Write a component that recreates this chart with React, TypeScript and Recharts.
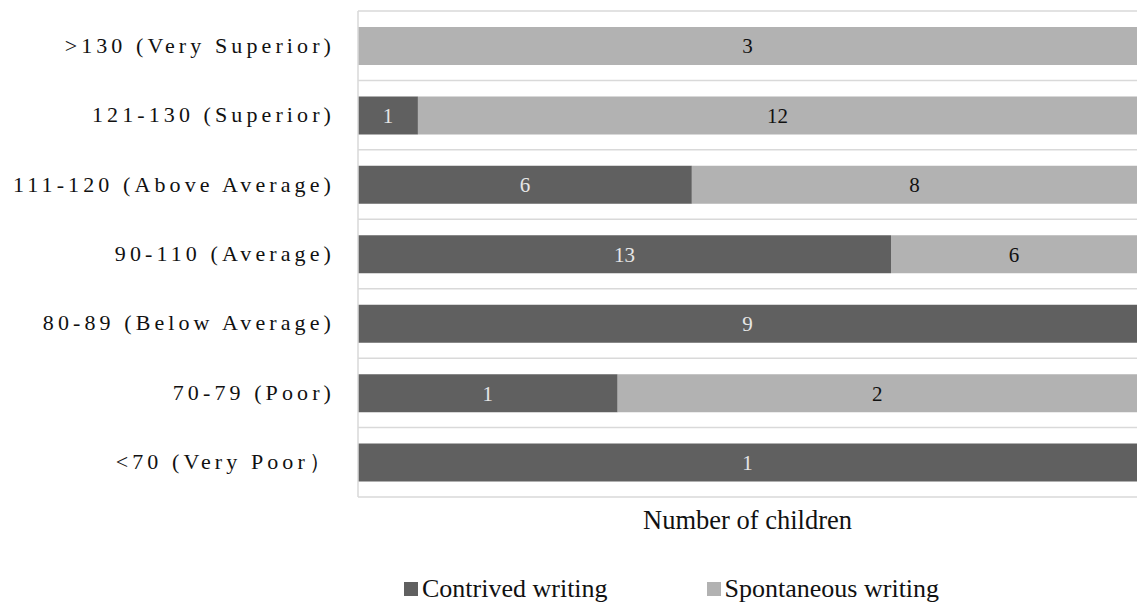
import { BarChart, Bar, XAxis, YAxis, CartesianGrid, Legend, LabelList } from 'recharts';

const categories = [
  '>130 (Very Superior)',
  '121-130 (Superior)',
  '111-120 (Above Average)',
  '90-110 (Average)',
  '80-89 (Below Average)',
  '70-79 (Poor)',
  '<70  (Very Poor）',
];
const contrived = [0, 1, 6, 13, 9, 1, 1];
const spontaneous = [3, 12, 8, 6, 0, 2, 0];

const DARK = '#606060';
const LIGHT = '#b2b2b2';
const SERIF = 'Liberation Serif, Times New Roman, serif';

const data = categories.map((name, i) => ({
  name,
  contrived: contrived[i],
  spontaneous: spontaneous[i],
}));

const hideZero = (v: any) => (v === 0 ? '' : v);

function CategoryTick({ x, y, payload }: any) {
  return (
    <text
      x={x - 15}
      y={y}
      dy={7}
      textAnchor="end"
      style={{ fontFamily: SERIF, fontSize: 22, letterSpacing: 4.1 }}
      fill="#111"
    >
      {payload.value}
    </text>
  );
}

function LegendContent() {
  const items = [
    { label: 'Contrived writing', color: DARK },
    { label: 'Spontaneous writing', color: LIGHT },
  ];
  return (
    <div
      style={{
        display: 'flex',
        height: 30,
        alignItems: 'center',
        paddingLeft: 404,
        fontFamily: SERIF,
        fontSize: 26,
        color: '#111',
      }}
    >
      {items.map((it) => (
        <div key={it.label} style={{ display: 'flex', alignItems: 'center', marginRight: 99 }}>
          <span style={{ width: 14, height: 14, background: it.color, marginRight: 4 }} />
          <span>{it.label}</span>
        </div>
      ))}
    </div>
  );
}

// grid lines sit on the category boundaries, not the band centres
const boundaryLines = ({ offset }: any) => {
  const step = offset.height / categories.length;
  return Array.from({ length: categories.length + 1 }, (_, i) => offset.top + i * step);
};

export default function App() {
  return (
    <div style={{ position: 'absolute', left: 0, top: 0, background: '#fff', fontFamily: SERIF }}>
      <BarChart
        width={1137}
        height={608}
        data={data}
        layout="vertical"
        stackOffset="expand"
        barSize={38}
        margin={{ top: 11, right: 0, bottom: 4, left: 0 }}
      >
        <CartesianGrid
          vertical={false}
          stroke="#d9d9d9"
          strokeWidth={1.5}
          horizontalCoordinatesGenerator={boundaryLines}
        />
        <XAxis
          type="number"
          domain={[0, 1]}
          tick={false}
          tickLine={false}
          axisLine={false}
          height={77}
          label={{
            value: 'Number of children',
            position: 'insideTop',
            offset: 13,
            style: { fontFamily: SERIF, fontSize: 26.5 },
            fill: '#111',
          }}
        />
        <YAxis
          type="category"
          dataKey="name"
          width={358}
          tickLine={false}
          axisLine={{ stroke: '#d9d9d9', strokeWidth: 1.5 }}
          tick={<CategoryTick />}
        />
        <Legend verticalAlign="bottom" align="left" content={<LegendContent />} />
        <Bar dataKey="contrived" stackId="a" fill={DARK} isAnimationActive={false}>
          <LabelList
            dataKey="contrived"
            position="center"
            formatter={hideZero}
            fill="#e6e6e6"
            style={{ fontFamily: SERIF, fontSize: 21 }}
          />
        </Bar>
        <Bar dataKey="spontaneous" stackId="a" fill={LIGHT} isAnimationActive={false}>
          <LabelList
            dataKey="spontaneous"
            position="center"
            formatter={hideZero}
            fill="#111"
            style={{ fontFamily: SERIF, fontSize: 21 }}
          />
        </Bar>
      </BarChart>
    </div>
  );
}
